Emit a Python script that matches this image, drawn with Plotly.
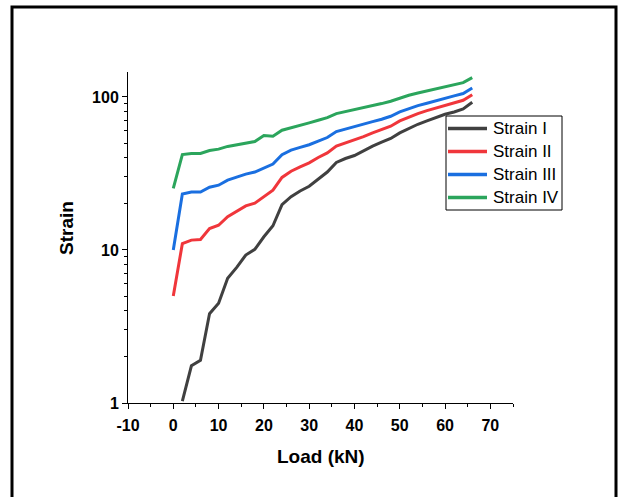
import plotly.graph_objects as go

load = [0, 2, 4, 6, 8, 10, 12, 14, 16, 18, 20, 22, 24, 26, 28, 30, 32, 34,
        36, 38, 40, 42, 44, 46, 48, 50, 52, 54, 56, 58, 60, 62, 64, 66]

strain_I = [None, 1.03, 1.75, 1.9, 3.83, 4.49, 6.53, 7.7, 9.27, 10.1, 12.2, 14.4,
            19.8, 22.3, 24.3, 26.1, 29.0, 32.3, 37.3, 39.6, 41.4, 44.5, 47.7, 50.6,
            53.5, 58.2, 62.5, 66.3, 69.7, 73.3, 77.1, 79.8, 83.5, 92.3]
strain_II = [5.0, 11.0, 11.6, 11.7, 13.8, 14.5, 16.5, 17.8, 19.4, 20.2, 22.3, 24.6,
             29.8, 32.7, 34.9, 37.1, 40.2, 43.1, 47.7, 50.1, 52.1, 55.1, 58.2, 61.2,
             64.4, 69.7, 74.1, 77.8, 81.4, 84.8, 88.3, 91.8, 95.1, 103.5]
strain_III = [10.0, 23.2, 23.9, 23.9, 25.7, 26.5, 28.6, 29.9, 31.3, 32.3, 34.3, 36.4,
              41.9, 44.9, 46.8, 48.7, 51.4, 54.3, 59.4, 61.8, 63.7, 66.3, 69.0, 71.5,
              74.8, 79.8, 83.9, 87.8, 90.9, 94.6, 98.0, 101.6, 105.2, 114.5]
strain_IV = [25.3, 42.0, 42.7, 42.7, 44.7, 45.6, 47.5, 48.7, 50.1, 51.1, 56.0, 55.4,
             60.6, 63.1, 65.3, 67.7, 70.4, 73.3, 77.8, 80.2, 81.9, 84.8, 87.8, 90.5,
             93.7, 98.5, 102.5, 106.0, 109.4, 112.7, 116.0, 119.7, 124.0, 133.7]

series_names = ["Strain I", "Strain II", "Strain III", "Strain IV"]
series_colors = ["#404040", "#F0363B", "#1A6FE0", "#2BA55C"]
x_ticks = [-10, 0, 10, 20, 30, 40, 50, 60, 70]
x_ticklabels = ["-10", "0", "10", "20", "30", "40", "50", "60", "70"]
y_ticks = [1, 10, 100]
y_minor = [2, 3, 4, 5, 6, 7, 8, 9, 20, 30, 40, 50, 60, 70, 80, 90]

FONT = "Arial, Liberation Sans, sans-serif"

fig = go.Figure()
for name, vals, col in zip(series_names, [strain_I, strain_II, strain_III, strain_IV], series_colors):
    fig.add_trace(go.Scatter(x=load, y=vals, mode="lines", name=name,
                             line=dict(color=col, width=3), showlegend=False))

# plot area in pixels: x 128..513, y 72..403
L, R, T, B = 128, 106, 72, 94
W, H = 619, 497
pw, ph = W - L - R, H - T - B

def px(x):
    return (x - L) / pw

def py(y):
    return (H - B - y) / ph

shapes = [
    # outer frame
    dict(type="rect", xref="paper", yref="paper",
         x0=px(12), x1=px(616), y0=py(7), y1=py(510),
         line=dict(color="black", width=3), fillcolor="rgba(0,0,0,0)", layer="above"),
    # legend box
    dict(type="rect", xref="paper", yref="paper",
         x0=px(446), x1=px(562), y0=py(116), y1=py(210),
         line=dict(color="black", width=1), fillcolor="white", layer="above"),
]
annotations = [
    dict(text="Load (kN)", xref="paper", yref="paper", x=0.5, y=py(456),
         showarrow=False, xanchor="center", yanchor="middle",
         font=dict(family=FONT, size=19, color="black", weight="bold")),
    dict(text="Strain", xref="paper", yref="paper", x=px(66), y=py(228),
         showarrow=False, xanchor="center", yanchor="middle", textangle=-90,
         font=dict(family=FONT, size=19, color="black", weight="bold")),
]
row_y = [128.5, 151.5, 174.5, 197.5]
for name, col, ry in zip(series_names, series_colors, row_y):
    shapes.append(dict(type="line", xref="paper", yref="paper",
                       x0=px(448), x1=px(487), y0=py(ry), y1=py(ry),
                       line=dict(color=col, width=3.5), layer="above"))
    annotations.append(dict(text=name, xref="paper", yref="paper", x=px(491), y=py(ry),
                            showarrow=False, xanchor="left", yanchor="middle",
                            font=dict(family=FONT, size=17, color="black")))

fig.update_layout(
    width=W, height=H,
    margin=dict(l=L, r=R, t=T, b=B, pad=0),
    paper_bgcolor="white", plot_bgcolor="white",
    font=dict(family=FONT, color="black"),
    showlegend=False,
    xaxis=dict(range=[-10, 75], tickmode="array", tickvals=x_ticks, ticktext=x_ticklabels,
               showgrid=False, zeroline=False, showline=True, linecolor="black",
               linewidth=1, ticks="outside", ticklen=5, tickcolor="black",
               ticklabelstandoff=3,
               tickfont=dict(family=FONT, size=16, color="black", weight="bold"),
               minor=dict(dtick=5, tick0=-10, ticks="outside", ticklen=3, tickcolor="black",
                          showgrid=False)),
    yaxis=dict(type="log", range=[0, 2.163], tickmode="array", tickvals=y_ticks,
               ticktext=[str(v) for v in y_ticks],
               showgrid=False, zeroline=False, showline=True, linecolor="black",
               linewidth=1, ticks="outside", ticklen=5, tickcolor="black",
               tickfont=dict(family=FONT, size=16, color="black", weight="bold"),
               minor=dict(tickmode="array", tickvals=y_minor, ticks="outside", ticklen=3,
                          tickcolor="black", showgrid=False)),
    annotations=annotations,
    shapes=shapes,
)

fig.write_html("out.html", config={"displayModeBar": False},
               post_script="document.body.style.margin='0';document.body.style.overflow='hidden';")
